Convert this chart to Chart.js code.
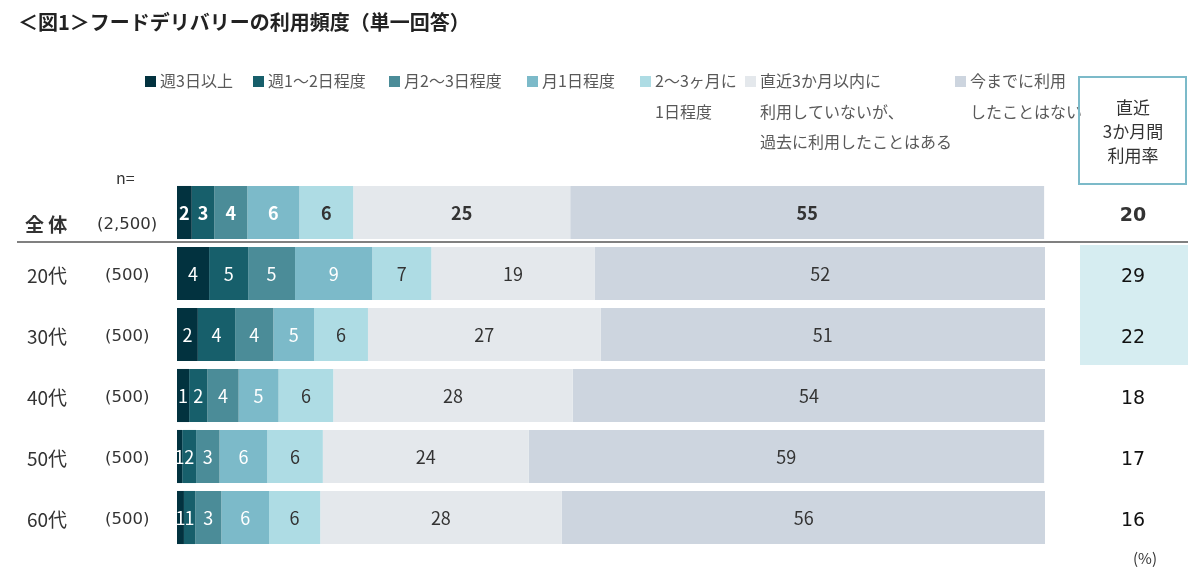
<!DOCTYPE html>
<html lang="ja">
<head>
<meta charset="utf-8">
<script src="https://cdn.jsdelivr.net/npm/chart.js@4.4.1/dist/chart.umd.min.js"></script>
<style>
  html, body { margin: 0; padding: 0; background: #fff; }
  #wrap { width: 1188px; height: 580px; }
</style>
</head>
<body>
<div id="wrap"><canvas id="freqChart" width="1188" height="580"></canvas></div>
<script>
// rows
const categories = ['全体', '20代', '30代', '40代', '50代', '60代'];
const sampleSizes = ['(2,500)', '(500)', '(500)', '(500)', '(500)', '(500)'];

// legend texts (line breaks as in the original)
const seriesNames = [
  '週3日以上',
  '週1〜2日程度',
  '月2〜3日程度',
  '月1日程度',
  '2〜3ヶ月に\n1日程度',
  '直近3か月以内に\n利用していないが、\n過去に利用したことはある',
  '今までに利用\nしたことはない'
];

// shares in % (labels are these rounded)
const weekly3     = [1.7, 3.7, 2.4, 1.4, 0.6, 0.8];
const weekly1to2  = [2.6, 4.5, 4.3, 2.1, 1.6, 1.3];
const monthly2to3 = [3.8, 5.4, 4.4, 3.6, 2.7, 3.0];
const monthly1    = [6.0, 8.9, 4.7, 4.6, 5.5, 5.5];
const every2to3m  = [6.2, 6.8, 6.2, 6.3, 6.4, 5.9];
const usedBefore  = [25.0, 18.8, 26.8, 27.6, 23.7, 27.8];
const neverUsed   = [54.6, 52.0, 51.2, 54.4, 59.4, 55.8];

// 直近3か月間利用率
const recentRate = [20, 29, 22, 18, 17, 16];

const colors = ['#02323f', '#175f6b', '#4b8c98', '#7cbac9', '#aedce4', '#e4e8ec', '#cdd5df'];
const seriesData = [weekly3, weekly1to2, monthly2to3, monthly1, every2to3m, usedBefore, neverUsed];

const JP = '"Noto Sans CJK JP", "Noto Sans", sans-serif';

const overlay = {
  id: 'overlay',
  afterDatasetsDraw(chart) {
    const ctx = chart.ctx;
    ctx.save();
    ctx.textAlign = 'center';
    ctx.textBaseline = 'middle';
    chart.data.datasets.forEach((ds, di) => {
      chart.getDatasetMeta(di).data.forEach((bar, i) => {
        ctx.font = (i === 0 ? 'bold ' : '') + '18px ' + JP;
        ctx.fillStyle = di < 4 ? '#ffffff' : '#333333';
        ctx.fillText(String(Math.round(ds.data[i])), (bar.x + bar.base) / 2, bar.y + 1);
      });
    });
    ctx.restore();
  },
  afterDraw(chart) {
    const ctx = chart.ctx;
    const y = chart.scales.y;
    ctx.save();

    // title
    ctx.fillStyle = '#222';
    ctx.font = 'bold 20px ' + JP;
    ctx.textAlign = 'left';
    ctx.textBaseline = 'middle';
    ctx.fillText('＜図1＞フードデリバリーの利用頻度（単一回答）', 18, 22);

    // legend
    const boxX = [145, 253, 389, 527, 640, 745, 955];
    ctx.font = '16px ' + JP;
    seriesNames.forEach((name, i) => {
      ctx.fillStyle = colors[i];
      ctx.fillRect(boxX[i], 76, 11, 11);
      ctx.fillStyle = '#595959';
      name.split('\n').forEach((line, k) => {
        ctx.fillText(line, boxX[i] + 15, 81 + k * 30.5);
      });
    });

    // row labels
    ctx.fillStyle = '#333';
    ctx.font = '16px ' + JP;
    ctx.fillText('n=', 116, 178);
    const nFont = '16.5px "DejaVu Sans", sans-serif';
    categories.forEach((c, i) => {
      const cy = y.getPixelForValue(i);
      if (i === 0) {
        ctx.font = 'bold 19px ' + JP;
        ctx.fillText('全 体', 25, cy + 12);
        ctx.font = nFont;
        ctx.fillText(sampleSizes[i], 97, cy + 12);
      } else {
        ctx.font = '19px ' + JP;
        ctx.fillText(c, 27, cy + 2);
        ctx.font = nFont;
        ctx.fillText(sampleSizes[i], 105, cy + 2);
      }
    });

    // separator under 全体
    ctx.strokeStyle = '#808080';
    ctx.lineWidth = 2;
    ctx.beginPath();
    ctx.moveTo(17, 242);
    ctx.lineTo(1188, 242);
    ctx.stroke();

    // right column: header box
    ctx.strokeStyle = '#7cbac9';
    ctx.lineWidth = 2;
    ctx.strokeRect(1079, 77, 107, 107);
    ctx.fillStyle = '#333';
    ctx.font = '17px ' + JP;
    ctx.textAlign = 'center';
    ['直近', '3か月間', '利用率'].forEach((t, k) => ctx.fillText(t, 1133, 108 + k * 24));

    // highlight 20代/30代
    ctx.fillStyle = '#d6edf1';
    ctx.fillRect(1080, 245, 108, 120);

    recentRate.forEach((v, i) => {
      const cy = y.getPixelForValue(i);
      ctx.font = (i === 0 ? 'bold ' : '') + '19px "DejaVu Sans", sans-serif';
      ctx.fillStyle = i === 0 ? '#333' : '#111';
      ctx.fillText(String(v), 1133, cy + 4);
    });

    ctx.font = '15px ' + JP;
    ctx.fillStyle = '#333';
    ctx.fillText('(%)', 1145, 558);
    ctx.restore();
  }
};

new Chart(document.getElementById('freqChart').getContext('2d'), {
  type: 'bar',
  data: {
    labels: categories,
    datasets: seriesData.map((d, i) => ({
      label: seriesNames[i],
      data: d,
      backgroundColor: colors[i],
      borderWidth: 0,
      categoryPercentage: 1,
      barPercentage: 0.87
    }))
  },
  options: {
    indexAxis: 'y',
    responsive: false,
    animation: false,
    layout: { padding: { left: 177, right: 143, top: 182, bottom: 32 } },
    plugins: { legend: { display: false }, tooltip: { enabled: false } },
    scales: {
      x: { stacked: true, min: 0, max: 100, display: false },
      y: { stacked: true, display: false }
    }
  },
  plugins: [overlay]
});
</script>
</body>
</html>
